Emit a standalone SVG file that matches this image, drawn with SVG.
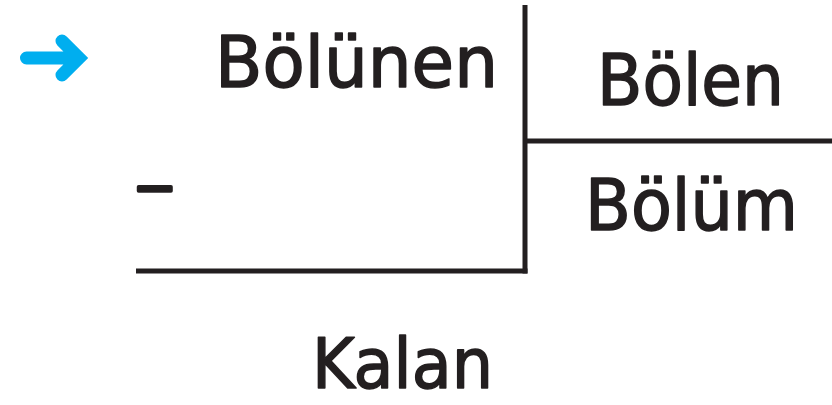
<svg xmlns="http://www.w3.org/2000/svg" width="832" height="405" viewBox="0 0 832 405">
<style>
.lbl{font-family:"DejaVu Sans","Liberation Sans",sans-serif;font-size:72px;fill:#231f20;stroke:#231f20;stroke-width:1.6;stroke-linejoin:round}
.ln{stroke:#231f20;stroke-width:5;fill:none}
</style>
<rect width="832" height="405" fill="#ffffff"/>
<g id="connectors">
<line class="ln" x1="525" y1="5" x2="525" y2="273.5"/>
<line class="ln" x1="136" y1="271" x2="527.5" y2="271"/>
<line class="ln" x1="525" y1="141" x2="832" y2="141"/>
</g>
<g id="arrow">
<path d="M26.5 58 H79 M62 41 L79 58 L62 75" stroke="#00aeef" stroke-width="13" fill="none" stroke-linecap="round" stroke-linejoin="miter"/>
</g>
<g id="bolunen"><text class="lbl" x="215" y="87" textLength="283" lengthAdjust="spacingAndGlyphs">Bölünen</text></g>
<g id="bolen"><text class="lbl" x="597" y="105" textLength="187" lengthAdjust="spacingAndGlyphs">Bölen</text></g>
<g id="bolum"><text class="lbl" x="585" y="230" textLength="213" lengthAdjust="spacingAndGlyphs">Bölüm</text></g>
<g id="kalan"><text class="lbl" x="312" y="388" font-size="70" style="font-size:70px" textLength="181" lengthAdjust="spacingAndGlyphs">Kalan</text></g>
<g id="minus"><text x="133" y="205" font-family="DejaVu Sans,sans-serif" font-size="52" fill="#231f20" stroke="#231f20" stroke-width="3.5" stroke-linejoin="round">−</text></g>
</svg>
